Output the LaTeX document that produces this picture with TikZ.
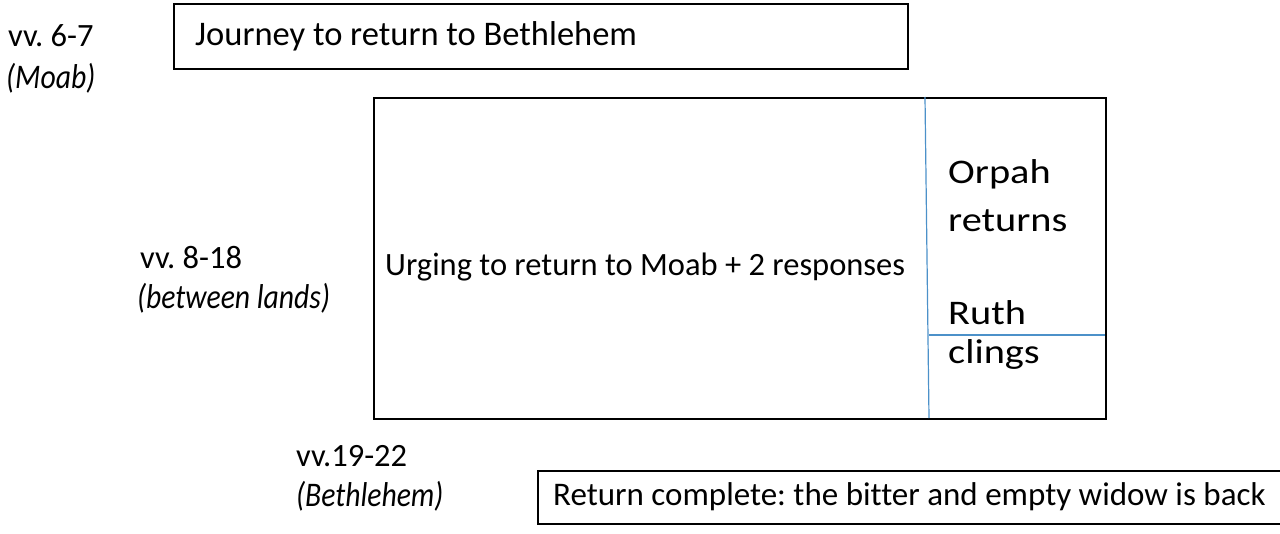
\documentclass[tikz,border=0pt]{standalone}
\usepackage{fontspec}
\setmainfont{Carlito}[Ligatures=NoCommon]
\newfontfamily\placefont{Carlito}[Ligatures=NoCommon, FakeStretch=0.86]
\newfontfamily\sidefont{Carlito}[Ligatures=NoCommon, FakeStretch=1.17]
\tikzset{
	box/.style={draw, line width=1.6pt, rectangle, anchor=north west},
	lbl/.style={anchor=west, inner sep=0pt, font=\fontsize{32.5}{40}\selectfont},
	place/.style={lbl, font=\fontsize{34.5}{40}\placefont\itshape},
	side/.style={lbl, font=\fontsize{34.5}{40}\sidefont},
	divider/.style={draw=blue!45!cyan!70!black!70, line width=1.2pt}
}
\frenchspacing
\begin{document}
\begin{tikzpicture}[x=1pt,y=-1pt]
	\useasboundingbox (0,0) rectangle (1280,533);
	
	\node[box, minimum width=734pt, minimum height=65pt] (1) at (173,3) {};
	\node[box, minimum width=732pt, minimum height=321pt] (2) at (373,97) {};
	\node[box, minimum width=744pt, minimum height=53pt] (3) at (537,470) {};
	
	\node[lbl] (v1) at (8,36) {vv. 6-7};
	\node[place] (p1) at (6,78) {(Moab)};
	\node[lbl] (v2) at (140,258) {vv. 8-18};
	\node[place] (p2) at (137,298) {(between lands)};
	\node[lbl] (v3) at (296,456) {vv.19-22};
	\node[place] (p3) at (296,496) {(Bethlehem)};
	
	\node[lbl, font=\fontsize{34.5}{40}\selectfont] (t1) at (195,36) {Journey to return to Bethlehem};
	\node[lbl] (t2) at (385,267) {Urging to return to Moab + 2 responses};
	\node[lbl, font=\fontsize{33}{40}\selectfont] (t3) at (553,497) {Return complete: the bitter and empty widow is back};
	
	\node[side] (o1) at (948,174) {Orpah};
	\node[side] (o2) at (948,221) {returns};
	\node[side] (r1) at (948,313) {Ruth};
	\node[side] (r2) at (948,354) {clings};
	
	\coordinate (a) at (925,97);
	\coordinate (b) at (929,418);
	\coordinate (c) at (929,335);
	\coordinate (d) at (1105,335);
	\path [divider] (a) edge (b);
	\path [divider] (c) edge (d);
\end{tikzpicture}
\end{document}
